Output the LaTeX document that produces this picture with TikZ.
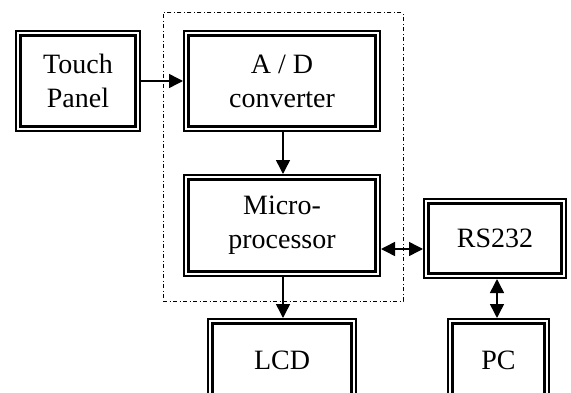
\documentclass[tikz,border=0pt]{standalone}
\usepackage{fontspec}
\setmainfont{Liberation Serif}
\usetikzlibrary{arrows.meta}
\begin{document}
\begin{tikzpicture}[x=1pt,y=1pt,
  blk/.style={draw, line width=2.2pt, double, double distance=2.2pt, outer sep=3.3pt,
    align=center, font=\fontsize{28}{34}\selectfont, inner sep=0pt},
  conn/.style={line width=1.5pt, -{Triangle[length=14pt,width=14pt]}},
  bconn/.style={line width=1.5pt, {Triangle[length=14pt,width=14pt]}-{Triangle[length=14pt,width=14pt]}},
  grp/.style={line width=0.8pt, dash pattern=on 4pt off 2.5pt on 1pt off 2.5pt}]
\useasboundingbox (0,0) rectangle (571,392);
\clip (0,0) rectangle (571,392);
\node[grp, draw, minimum width=240pt, minimum height=288.3pt, inner sep=0pt] (grp) at (283,235.15) {};
\node[blk, minimum width=119.4pt, minimum height=95.4pt] (touch) at (78,311) {Touch\\Panel};
\node[blk, minimum width=191.4pt, minimum height=95.4pt] (ad) at (282,311) {A / D\\converter};
\node[blk, minimum width=191.4pt, minimum height=96.4pt] (micro) at (282,166.5) {Micro-\\processor};
\node[blk, minimum width=137.4pt, minimum height=74.4pt] (rs) at (495,153.5) {RS232};
\node[blk, minimum width=143.4pt, minimum height=77.4pt] (lcd) at (282,32) {LCD};
\node[blk, minimum width=96.4pt, minimum height=77.4pt] (pc) at (498.5,32) {PC};
\draw[conn] (touch.east) -- (ad.west);
\draw[conn] (ad.south -| 283,0) -- (micro.north -| 283,0);
\draw[conn] (micro.south -| 283,0) -- (lcd.north -| 283,0);
\draw[bconn] (micro.east |- 0,143) -- (rs.west |- 0,143);
\draw[bconn] (rs.south -| 497,0) -- (pc.north -| 497,0);
\end{tikzpicture}
\end{document}
